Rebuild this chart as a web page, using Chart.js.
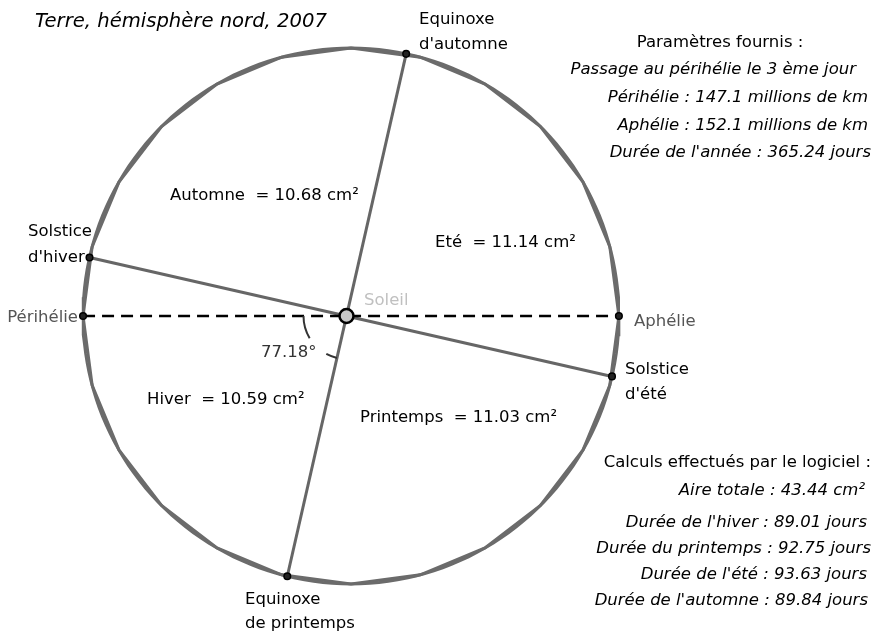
<!DOCTYPE html>
<html>
<head>
<meta charset="utf-8">
<script src="https://cdn.jsdelivr.net/npm/chart.js@4/dist/chart.umd.min.js"></script>
<style>
  html, body { margin: 0; padding: 0; background: #fff; }
  #wrap { width: 882px; height: 633px; }
</style>
</head>
<body>
<div id="wrap"><canvas id="orbitChart" width="882" height="633"></canvas></div>
<script>
// Paramètres fournis (millions de km, Soleil à l'origine)
const perihelie = 147.1;
const aphelie = 152.1;
const angleEquinoxe = 77.18; // angle périhélie -> équinoxe de printemps

// saisons : position angulaire vue du Soleil (degrés)
const seasonPoints = ["Equinoxe d'automne", "Solstice d'hiver", 'Equinoxe de printemps', "Solstice d'été"];
const seasonAngles = [77.18, 167.18, 257.18, 347.18];

// aires des secteurs
const regionNames = ['Automne', 'Eté', 'Hiver', 'Printemps'];
const regionAreas = [10.68, 11.14, 10.59, 11.03];

// résultats
const dureeNames = ["Durée de l'hiver", 'Durée du printemps', "Durée de l'été", "Durée de l'automne"];
const dureeValues = [89.01, 92.75, 93.63, 89.84];
const aireTotale = 43.44;
const dureeAnnee = 365.24;
const jourPerihelie = 3;

// ellipse
const a = (perihelie + aphelie) / 2;
const c = (aphelie - perihelie) / 2;
const b = Math.sqrt(a * a - c * c);
const e = c / a;

function ellipsePts(n) {
  const out = [];
  for (let k = 0; k <= n; k++) {
    const t = k * 2 * Math.PI / n;
    out.push({ x: c + a * Math.cos(t), y: b * Math.sin(t) });
  }
  return out;
}
const orbitSmooth = ellipsePts(180);
const orbitPoly = ellipsePts(24);

function onOrbit(deg) {
  const th = deg * Math.PI / 180;
  const r = a * (1 - e * e) / (1 - e * Math.cos(th));
  return { x: r * Math.cos(th), y: r * Math.sin(th) };
}
const pts = seasonAngles.map(onOrbit);
const periPt = { x: -perihelie, y: 0 };
const aphPt = { x: aphelie, y: 0 };
const sun = { x: 0, y: 0 };

// px par million de km
const s = 1.791;
const sunPx = { x: 346.5, y: 316 };

const textPlugin = {
  id: 'texts',
  afterDraw(chart) {
    const ctx = chart.ctx;
    const sx = chart.scales.x, sy = chart.scales.y;
    const cx = sx.getPixelForValue(0), cy = sy.getPixelForValue(0);
    ctx.save();

    // arc de l'angle
    const rad = 43;
    ctx.strokeStyle = '#333';
    ctx.lineWidth = 2;
    ctx.beginPath();
    ctx.arc(cx, cy, rad, Math.PI, 149 * Math.PI / 180, true);
    ctx.stroke();
    ctx.beginPath();
    ctx.arc(cx, cy, rad, 118 * Math.PI / 180, (180 - angleEquinoxe) * Math.PI / 180, true);
    ctx.stroke();

    const norm = '16.5px "DejaVu Sans"';
    const ital = 'italic 16.5px "DejaVu Sans"';
    function txt(str, x, y, font, color, align) {
      ctx.font = font;
      ctx.fillStyle = color || '#000';
      ctx.textAlign = align || 'left';
      ctx.textBaseline = 'alphabetic';
      ctx.fillText(str, x, y);
    }

    txt('Terre, hémisphère nord, 2007', 35, 27, 'italic 19.6px "DejaVu Sans"');

    // points
    txt('Equinoxe', 419, 24, norm);
    txt("d'automne", 419, 49, norm);
    txt('Solstice', 28, 236, norm);
    txt("d'hiver", 28, 262, norm);
    txt('Equinoxe', 245, 604, norm);
    txt('de printemps', 245, 628, norm);
    txt('Solstice', 625, 374, norm);
    txt("d'été", 625, 399, norm);
    txt('Périhélie', 78, 322, norm, '#555', 'right');
    txt('Aphélie', 634, 326, norm, '#555');
    txt('Soleil', 364, 305, norm, '#c0c0c0');
    txt(angleEquinoxe.toFixed(2) + '°', 261, 357, norm, '#333');

    // aires
    const areaPos = [[170, 200], [435, 247], [147, 404], [360, 422]];
    regionNames.forEach((n, i) => {
      txt(n + '  = ' + regionAreas[i].toFixed(2) + ' cm²', areaPos[i][0], areaPos[i][1], norm);
    });

    // paramètres
    txt('Paramètres fournis :', 720, 47, norm, '#000', 'center');
    txt('Passage au périhélie le ' + jourPerihelie + ' ème jour', 856, 74, ital, '#000', 'right');
    txt('Périhélie : ' + perihelie + ' millions de km', 868, 102, ital, '#000', 'right');
    txt('Aphélie : ' + aphelie + ' millions de km', 868, 130, ital, '#000', 'right');
    txt("Durée de l'année : " + dureeAnnee + ' jours', 871, 157, ital, '#000', 'right');

    // calculs
    txt('Calculs effectués par le logiciel :', 871, 467, norm, '#000', 'right');
    txt('Aire totale : ' + aireTotale + ' cm²', 865, 495, ital, '#000', 'right');
    const dy = [527, 553, 579, 605];
    const dx = [867, 871, 867, 868];
    dureeNames.forEach((n, i) => {
      txt(n + ' : ' + dureeValues[i].toFixed(2) + ' jours', dx[i], dy[i], ital, '#000', 'right');
    });
    ctx.restore();
  }
};

new Chart(document.getElementById('orbitChart'), {
  type: 'scatter',
  data: {
    datasets: [
      {
        label: 'Soleil',
        data: [sun],
        pointRadius: 7,
        pointBackgroundColor: '#c8c8c8',
        pointBorderColor: '#000',
        pointBorderWidth: 2.5
      },
      {
        label: 'points',
        data: [pts[0], pts[1], pts[2], pts[3], periPt, aphPt],
        pointRadius: 3.3,
        pointBackgroundColor: '#222',
        pointBorderColor: '#000',
        pointBorderWidth: 1.5
      },
      {
        label: 'apsides',
        data: [periPt, aphPt],
        showLine: true,
        borderColor: '#000',
        borderWidth: 2.5,
        borderDash: [12, 7],
        pointRadius: 0
      },
      {
        label: 'solstices',
        data: [pts[1], pts[3]],
        showLine: true,
        borderColor: '#666',
        borderWidth: 3,
        pointRadius: 0
      },
      {
        label: 'equinoxes',
        data: [pts[0], pts[2]],
        showLine: true,
        borderColor: '#666',
        borderWidth: 3,
        pointRadius: 0
      },
      {
        label: 'orbite',
        data: orbitSmooth,
        showLine: true,
        borderColor: '#6b6b6b',
        borderWidth: 3,
        pointRadius: 0,
        tension: 0
      },
      {
        label: 'orbite (polygone)',
        data: orbitPoly,
        showLine: true,
        borderColor: '#6b6b6b',
        borderWidth: 3,
        pointRadius: 0,
        tension: 0
      }
    ]
  },
  options: {
    responsive: false,
    animation: false,
    events: [],
    layout: { padding: 0, autoPadding: false },
    plugins: { legend: { display: false }, tooltip: { enabled: false } },
    scales: {
      x: { type: 'linear', display: false, min: -sunPx.x / s, max: (882 - sunPx.x) / s },
      y: { type: 'linear', display: false, min: -(633 - sunPx.y) / s, max: sunPx.y / s }
    }
  },
  plugins: [textPlugin]
});
</script>
</body>
</html>
